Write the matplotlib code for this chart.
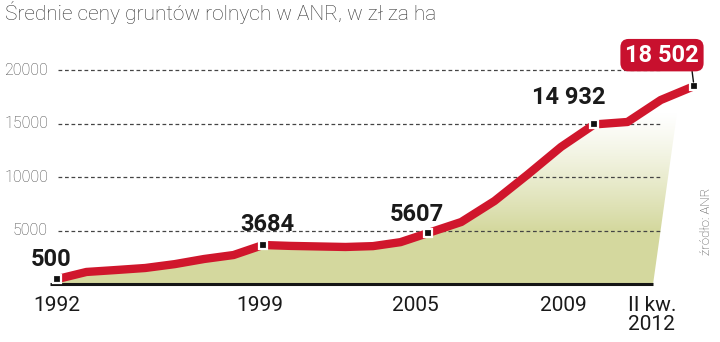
import matplotlib
matplotlib.use('Agg')
import matplotlib.pyplot as plt
import numpy as np
from matplotlib.patches import Polygon

# average farmland prices (ANR), zl per ha
periods = ['1992', '1993', '1994', '1995', '1996', '1997', '1998', '1999',
           '2000', '2001', '2002', '2003', '2004', '2005', '2006', '2007',
           '2008', '2009', '2010', '2011', 'I kw. 2012', 'II kw. 2012']
prices = [500, 1170, 1350, 1540, 1900, 2380, 2750, 3684,
          3600, 3550, 3500, 3580, 3950, 4800, 5830, 7790,
          10260, 12830, 14932, 15160, 17210, 18502]

marked = ['1992', '1999', '2005', '2010', 'II kw. 2012']
marked_text = ['500', '3684', '5607', '14 932', '18 502']

tick_periods = ['1992', '1999', '2005', '2009', 'II kw. 2012']
tick_text = ['1992', '1999', '2005', '2009', 'II kw.\n2012']

y_ticks = [5000, 10000, 15000, 20000]

title = 'Średnie ceny gruntów rolnych w ANR, w zł za ha'
source = 'źródło: ANR'

RED = '#d0162c'
BOX = '#c8102e'

x = np.arange(len(periods))
y = np.array(prices, dtype=float)
idx = {p: i for i, p in enumerate(periods)}

fig = plt.figure(figsize=(7.2, 3.42), dpi=100)
ax = fig.add_axes([0, 0, 1, 1])
ax.axis('off')

# the original time axis is stretched unevenly, so mimic it with a piecewise scale
kx = np.array([-20, 0, 7, 13, 21, 41], dtype=float)
kp = np.array([57 - 20 * 29.43, 57, 263, 428, 694, 694 + 20 * 33.25])
fwd = lambda v: np.interp(v, kx, kp)
inv = lambda p: np.interp(p, kp, kx)
ax.set_xscale('function', functions=(fwd, inv))
ax.set_xlim(inv(0), inv(720))
ax.set_ylim(-5364, 26539)

# gradient area under the line
x_cut = inv(680)
verts = [(0, 0)] + list(zip(x[:21], y[:21])) + \
        [(x_cut, np.interp(x_cut, x, y)), (inv(653), 0)]
poly = Polygon(verts, closed=True, facecolor='none', edgecolor='none',
               transform=ax.transData)
ax.add_patch(poly)
v = np.linspace(0, 20000, 256)
alpha = np.clip((16000 - v) / 11000, 0, 1) ** 1.2
grad = np.zeros((256, 2, 4))
grad[..., 0] = 0.835
grad[..., 1] = 0.85
grad[..., 2] = 0.62
grad[..., 3] = alpha[:, None]
im = ax.imshow(grad, extent=[inv(40), inv(700), 0, 20000], origin='lower',
               aspect='auto', zorder=1, interpolation='bilinear')
im.set_clip_path(poly)

# dashed grid
ax.hlines(y_ticks, inv(58), inv(662), colors='#444444', lw=0.9,
          linestyles=(0, (3, 2.2)), zorder=2)
for t in y_ticks:
    ax.text(inv(48), t, str(t), ha='right', va='center', fontsize=11.5,
            family='Roboto', weight='light', color='#444444')

# baseline
ax.hlines(0, inv(50), inv(653), colors='#151515', lw=2.2, zorder=3)

# line and markers
ax.plot(x, y, color=RED, lw=6, solid_joinstyle='round', solid_capstyle='butt',
        zorder=4)
mx = [idx[p] for p in marked]
my = [prices[idx[p]] for p in marked]
ax.plot(mx, my, 's', ms=6, mfc='#111111', mec='white', mew=1.6, zorder=5)

# value labels
offsets = [(-6, 20), (4, 21), (-11, 19), (-26, 27)]
for px_, py_, txt, off in zip(mx[:-1], my[:-1], marked_text[:-1], offsets):
    ax.annotate(txt, (px_, py_), xytext=off, textcoords='offset pixels',
                ha='center', va='center', fontsize=17, weight='bold',
                family='Roboto', color='#1a1a1a', zorder=6)

ax.annotate(marked_text[-1], (mx[-1], my[-1]), xytext=(-32, 31),
            textcoords='offset pixels', ha='center', va='center',
            fontsize=17, weight='bold', family='Roboto', color='white',
            bbox=dict(boxstyle='round,pad=0.2,rounding_size=0.35', fc=BOX,
                      ec='none'),
            arrowprops=dict(arrowstyle='-', color='#111111', lw=1,
                            relpos=(0.9, 0), shrinkA=0, shrinkB=3),
            zorder=6)

# x labels
x_off = [(0, 0), (-3, 0), (-13, 0), (2, 0), (-66, 0)]
for p, txt, off in zip(tick_periods, tick_text, x_off):
    ax.annotate(txt, (idx[p], 0), xytext=(off[0], -12),
                textcoords='offset pixels',
                ha='left' if '\n' in txt else 'center', va='top',
                fontsize=15, family='Roboto', color='#1a1a1a',
                linespacing=1.0)

fig.text(5 / 720, 1 - 13 / 342, title, ha='left', va='center', fontsize=15,
         family='Roboto', weight='light', color='#333333')
fig.text(707 / 720, 1 - 221 / 342, source, ha='center', va='center',
         rotation=90, fontsize=9.5, family='Roboto', weight='light',
         color='#444444')

fig.savefig('out.png', dpi=100)
